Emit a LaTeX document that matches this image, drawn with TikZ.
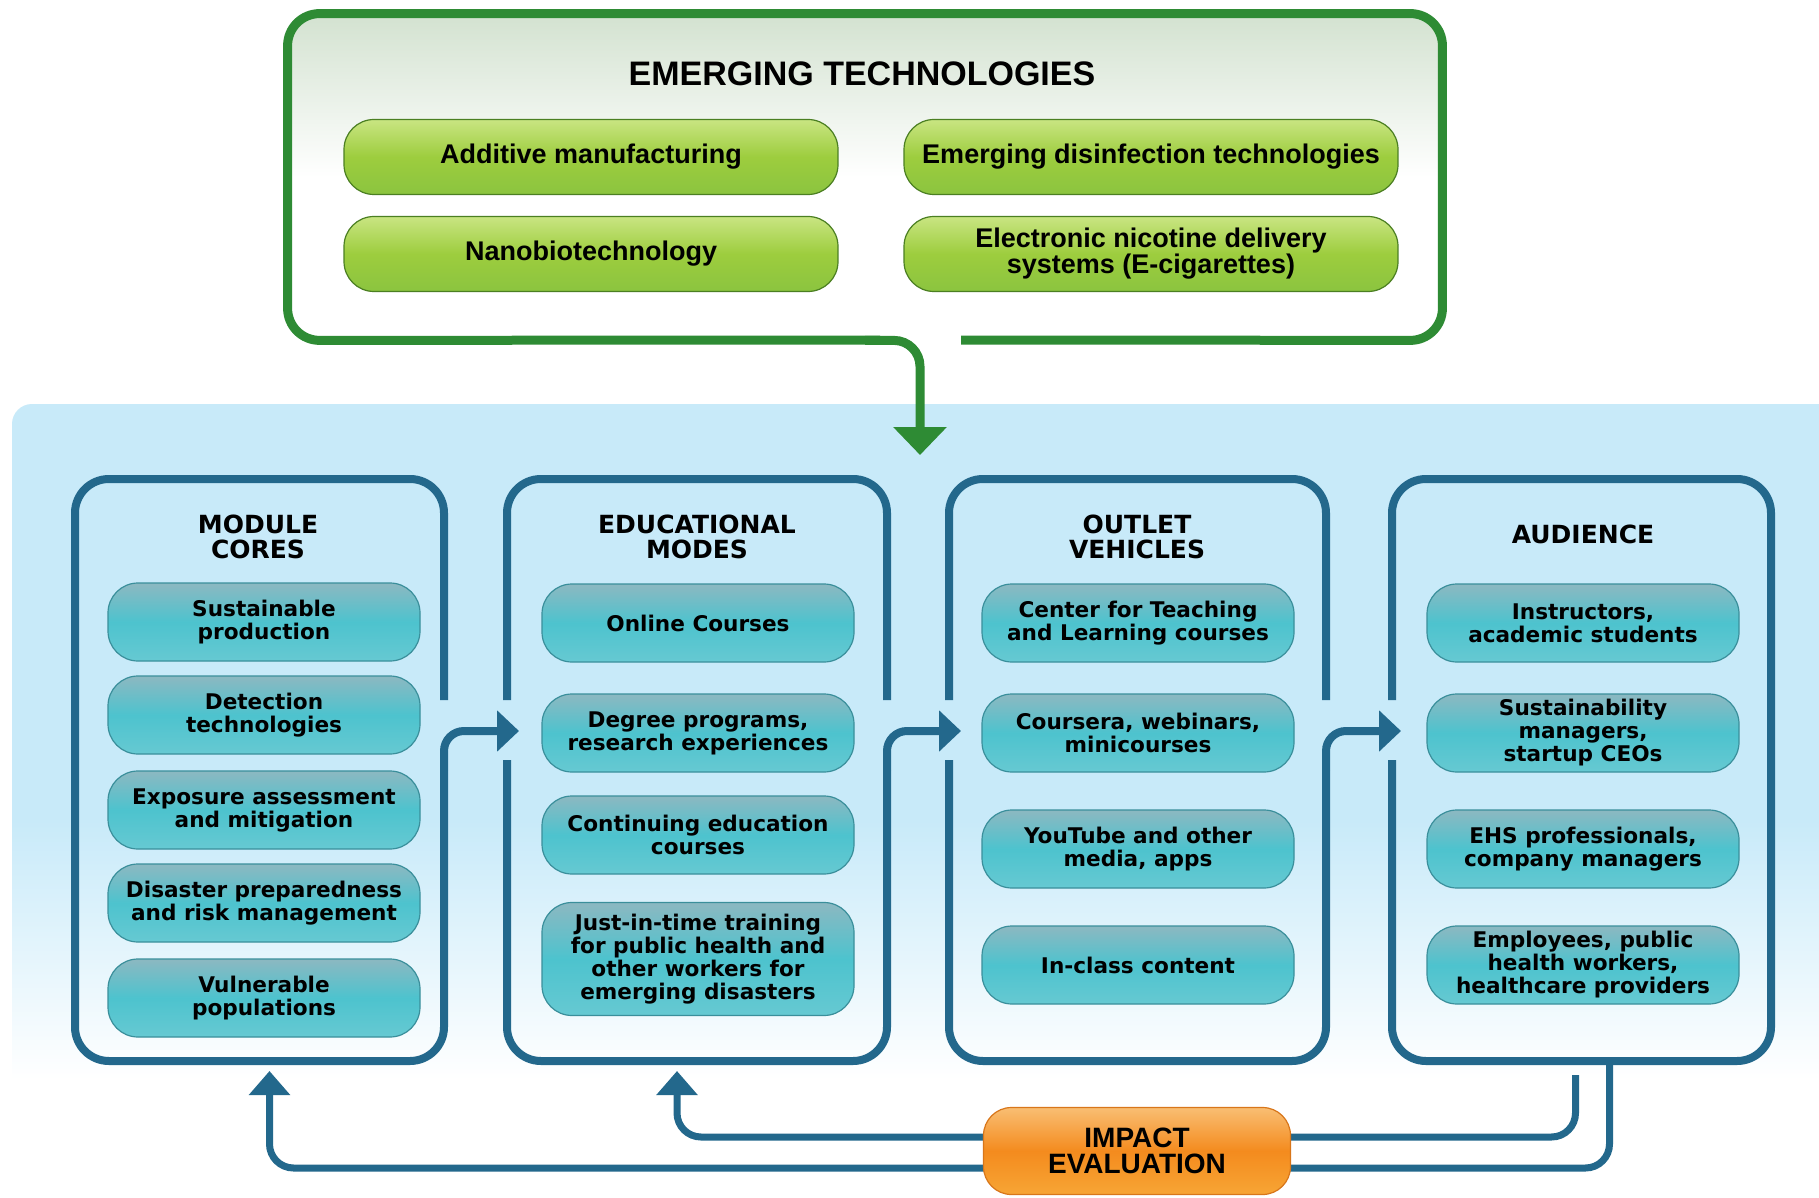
\documentclass[tikz,border=0pt]{standalone}
\usepackage{fontspec}
\setmainfont{Liberation Sans}
\newfontfamily\wide{DejaVu Sans}
\usepackage{tikz}
\usetikzlibrary{arrows.meta}
\definecolor{leafx}{HTML}{2E8B34}
\definecolor{mistx}{HTML}{D3E2D0}
\definecolor{skyx}{HTML}{C8EAF9}
\definecolor{navyx}{HTML}{23688C}
\definecolor{tealtop}{HTML}{8CB8C1}
\definecolor{tealmid}{HTML}{4DC3CE}
\definecolor{tealbot}{HTML}{66C9D2}
\definecolor{tealline}{HTML}{3A8F9B}
\definecolor{limetop}{HTML}{C9E582}
\definecolor{limemid}{HTML}{9DCD3E}
\definecolor{limebot}{HTML}{8BC43F}
\definecolor{limeline}{HTML}{4B7F22}
\definecolor{ambtop}{HTML}{F9BE73}
\definecolor{ambmid}{HTML}{F48B1E}
\definecolor{ambbot}{HTML}{F7A535}
\definecolor{ambline}{HTML}{D8761A}
\tikzset{
  gbox/.style={rounded corners=16pt,top color=mistx,bottom color=white,middle color=white,minimum width=577pt,minimum height=163pt,inner sep=0pt},
  gpill/.style={rounded corners=15pt,draw=limeline,line width=0.6pt,top color=limetop,bottom color=limebot,middle color=limemid,minimum width=247pt,minimum height=37.5pt,align=center,inner sep=2pt,font=\bfseries\fontsize{13.5}{13}\selectfont},
  bpill/.style={rounded corners=15pt,draw=tealline,line width=0.6pt,top color=tealtop,bottom color=tealbot,middle color=tealmid,minimum width=156pt,minimum height=39pt,align=center,inner sep=2pt,font=\wide\bfseries\fontsize{10.8}{11.5}\selectfont},
  opill/.style={rounded corners=14pt,draw=ambline,line width=0.6pt,top color=ambtop,bottom color=ambbot,middle color=ambmid,minimum width=153.5pt,minimum height=43.5pt,align=center,inner sep=2pt,font=\bfseries\fontsize{14}{13}\selectfont},
  hdr/.style={align=center,font=\wide\bfseries\fontsize{12.5}{12.5}\selectfont},
  panel/.style={minimum height=291pt,inner sep=0pt,outer sep=0pt},
  pline/.style={draw=navyx,line width=4pt,rounded corners=17pt},
  flow/.style={draw=navyx,line width=4pt,rounded corners=10pt,-{Triangle[width=20pt,length=11pt]}},
  fback/.style={draw=navyx,line width=3.5pt,rounded corners=12pt,-{Triangle[width=20pt,length=12pt]}},
  gline/.style={draw=leafx,line width=4.5pt,rounded corners=16pt},
  gdrop/.style={draw=leafx,line width=4.5pt,rounded corners=13pt,-{Triangle[width=26pt,length=14pt]}}
}
\begin{document}
\begin{tikzpicture}[x=0.5pt,y=-0.5pt]
\useasboundingbox (0,0) rectangle (1819,1198);
\fill[white] (0,0) rectangle (1819,1198);
% blue field behind the four columns
\fill[skyx,rounded corners=10pt] (12,404) rectangle (1850,840);
\shade[top color=skyx,bottom color=white] (12,820) rectangle (1850,1080);

% emerging technologies box
\node[gbox] (et) at (865,177) {};
\node[font=\bfseries\fontsize{17}{17}\selectfont] (ttl) at (862,74) {EMERGING TECHNOLOGIES};
\node[gpill] (am) at (591,157) {Additive manufacturing};
\node[gpill] (ed) at (1151,157) {Emerging disinfection technologies};
\node[gpill] (nb) at (591,254) {Nanobiotechnology};
\node[gpill] (en) at (1151,254) {Electronic nicotine delivery\\systems (E-cigarettes)};
\draw[gline] (961,340) -- (et.south east) -- (et.north east) -- (et.north west) -- (et.south west) -- (880,340);
\coordinate (drop) at (920,455);
\draw[gdrop] (et.south) -| (drop);

% the four columns
\node[panel,minimum width=184.5pt] (mc) at (259.5,770) {};
\node[panel,minimum width=190pt] (em) at (697,770) {};
\node[panel,minimum width=188.5pt] (ov) at (1137.5,770) {};
\node[panel,minimum width=189.5pt] (au) at (1581.5,770) {};
\draw[pline] (444,700) -- (mc.north east) -- (mc.north west) -- (mc.south west) -- (mc.south east) -- (mc.east);
\draw[pline] (507,760) -- (em.south west) -- (em.south east) -- (em.east)
  (887,700) -- (em.north east) -- (em.north west) -- (507,700);
\draw[pline] (949,760) -- (ov.south west) -- (ov.south east) -- (ov.east)
  (1326,700) -- (ov.north east) -- (ov.north west) -- (949,700);
\draw[pline] (1392,760) -- (au.south west) -- (au.south east) -- (au.north east) -- (au.north west) -- (1392,700);

\node[hdr] (h1) at (258,537) {MODULE\\CORES};
\node[hdr] (h2) at (697,537) {EDUCATIONAL\\MODES};
\node[hdr] (h3) at (1137,537) {OUTLET\\VEHICLES};
\node[hdr] (h4) at (1583,534) {AUDIENCE};

\node[bpill] (m1) at (264,622) {Sustainable\\production};
\node[bpill] (m2) at (264,715) {Detection\\technologies};
\node[bpill] (m3) at (264,810) {Exposure assessment\\and mitigation};
\node[bpill] (m4) at (264,903) {Disaster preparedness\\and risk management};
\node[bpill] (m5) at (264,998) {Vulnerable\\populations};

\node[bpill] (e1) at (698,623) {Online Courses};
\node[bpill] (e2) at (698,733) {Degree programs,\\research experiences};
\node[bpill] (e3) at (698,835) {Continuing education\\courses};
\node[bpill,minimum height=56.5pt] (e4) at (698,959) {Just-in-time training\\for public health and\\other workers for\\emerging disasters};

\node[bpill] (o1) at (1138,623) {Center for Teaching\\and Learning courses};
\node[bpill] (o2) at (1138,733) {Coursera, webinars,\\minicourses};
\node[bpill] (o3) at (1138,849) {YouTube and other\\media, apps};
\node[bpill] (o4) at (1138,965) {In-class content};

\node[bpill] (a1) at (1583,623) {Instructors,\\academic students};
\node[bpill] (a2) at (1583,733) {Sustainability\\managers,\\startup CEOs};
\node[bpill] (a3) at (1583,849) {EHS professionals,\\company managers};
\node[bpill] (a4) at (1583,965) {Employees, public\\health workers,\\healthcare providers};

% flow between columns
\coordinate (in2) at (519,731);
\coordinate (in3) at (961,731);
\coordinate (in4) at (1401,731);
\draw[flow] (mc.east) |- (in2);
\draw[flow] (em.east) |- (in3);
\draw[flow] (ov.east) |- (in4);

% evaluation loops back
\draw[fback] ([xshift=-3pt,yshift=-7pt]au.south) |- (677,1137) -- ([xshift=-10pt,yshift=-5pt]em.south);
\draw[fback] ([xshift=14pt]au.south) |- (269.5,1168) -- ([xshift=5pt,yshift=-5pt]mc.south);
\node[opill] (ie) at (1137,1151) {IMPACT\\EVALUATION};
\end{tikzpicture}
\end{document}
